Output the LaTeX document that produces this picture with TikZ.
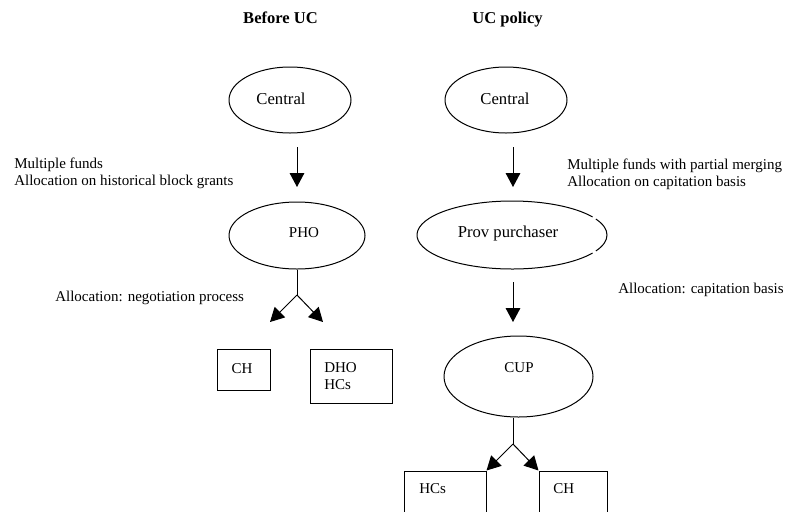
\documentclass[tikz,border=0pt]{standalone}
\usepackage{fontspec}
\setmainfont{Liberation Serif}
\usetikzlibrary{shapes.geometric,arrows.meta}
\tikzset{
  stroke/.style={draw=black,line width=0.75pt},
  oval/.style={stroke,ellipse,inner sep=0pt},
  box/.style={stroke,rectangle,inner sep=0pt},
  txt/.style={inner sep=0pt,font=\fontsize{11.25pt}{12.75pt}\selectfont},
  bigtxt/.style={inner sep=0pt,font=\fontsize{12.5pt}{14pt}\selectfont},
  heading/.style={inner sep=0pt,font=\fontsize{12.4pt}{14pt}\selectfont\bfseries},
  flow/.style={line width=0.75pt,-{Triangle[length=10.5pt,width=11pt]}},
}
\begin{document}
\begin{tikzpicture}[x=0.75pt,y=-0.75pt]
\useasboundingbox (0,0) rectangle (785,511);
\clip (0,0) rectangle (785,511);

% column headings
\node[heading,anchor=base] (hbefore) at (280.5,23) {Before UC};
\node[heading,anchor=base] (hpolicy) at (507.5,23) {UC policy};

% ---------- before UC ----------
\node[oval,minimum width=91.5pt,minimum height=49.5pt] (cenL) at (290,100) {};
\node[bigtxt,anchor=base] (cenLt) at (281,104) {Central};

\node[oval,minimum width=102pt,minimum height=50.25pt] (pho) at (297,235.5) {};
\node[txt,anchor=base] (phot) at (304,237) {PHO};

\node[box,minimum width=39.75pt,minimum height=30.75pt] (chL) at (243.5,369.5) {};
\node[txt,anchor=base] (chLt) at (242,373) {CH};

\node[box,minimum width=61.5pt,minimum height=40.5pt] (dho) at (351,376) {};
\node[txt,anchor=base west] (dhot1) at (324,372) {DHO};
\node[txt,anchor=base west] (dhot2) at (324,389) {HCs};

\node[txt,anchor=base west] (lnoteA) at (14,168) {Multiple funds};
\node[txt,anchor=base west] (lnoteB) at (14,185) {Allocation on historical block grants};
\node[txt,anchor=base west] (lnoteC) at (55,301) {Allocation: negotiation process};

\coordinate (a1s) at (297,147);
\coordinate (a1e) at (297,187);
\draw[flow] (a1s) -- (a1e);

\coordinate (bL) at (297,295);
\coordinate (tipL1) at (270,322);
\coordinate (tipL2) at (323,322);
\draw[line width=0.75pt] (pho.south -| bL) -- (bL);
\draw[flow] (bL) -- (tipL1);
\draw[flow] (bL) -- (tipL2);

% ---------- UC policy ----------
\node[oval,minimum width=91.5pt,minimum height=49.5pt] (cenR) at (506,100) {};
\node[bigtxt,anchor=base] (cenRt) at (505,104) {Central};

% provincial purchaser: outline broken by two small gaps on the right
\node[ellipse,inner sep=0pt,minimum width=142.5pt,minimum height=51pt] (prov) at (512,235) {};
\draw[line width=0.75pt] ([shift={(32:71.25pt and 25.5pt)}]prov.center)
  arc[start angle=32,end angle=328,x radius=71.25pt,y radius=25.5pt];
\draw[line width=0.75pt] ([shift={(-28:71.25pt and 25.5pt)}]prov.center)
  arc[start angle=-28,end angle=28,x radius=71.25pt,y radius=25.5pt];
\node[bigtxt,anchor=base] (provt) at (508,237) {Prov purchaser};

\node[oval,minimum width=111.75pt,minimum height=60.75pt] (cup) at (518.5,376.5) {};
\node[txt,anchor=base] (cupt) at (519,372) {CUP};

\node[box,minimum width=61.5pt,minimum height=40.5pt] (hcs) at (445,498) {};
\node[txt,anchor=base west] (hcst) at (419,493) {HCs};
\node[box,minimum width=51pt,minimum height=40.5pt] (chR) at (573,498) {};
\node[txt,anchor=base west] (chRt) at (553,493) {CH};

\node[txt,anchor=base west] (rnoteA) at (567,169) {Multiple funds with partial merging};
\node[txt,anchor=base west] (rnoteB) at (567,186) {Allocation on capitation basis};
\node[txt,anchor=base west] (rnoteC) at (618,293.5) {Allocation: capitation basis};

\coordinate (a2s) at (513,147);
\coordinate (a2e) at (513,187);
\draw[flow] (a2s) -- (a2e);
\coordinate (a3s) at (513,282);
\coordinate (a3e) at (513,322);
\draw[flow] (a3s) -- (a3e);

\coordinate (bR) at (513,444);
\draw[line width=0.75pt] (cup.south -| bR) -- (bR);
\draw[flow] (bR) -- (hcs.north east);
\draw[flow] (bR) -- (chR.north west);
\end{tikzpicture}
\end{document}
